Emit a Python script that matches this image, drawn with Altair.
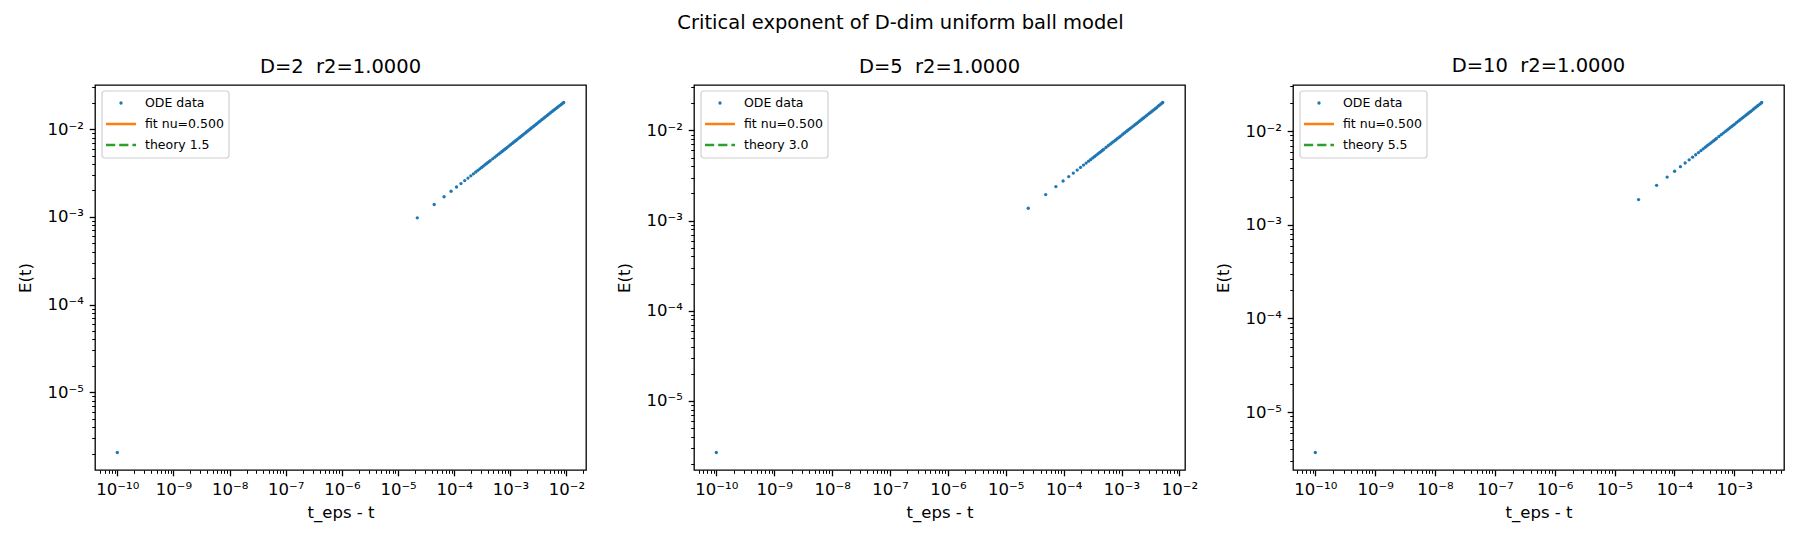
import math
import altair as alt
import pandas as pd

# ---------------- data ----------------
dims = [2, 5, 10]
r2_text = ["1.0000", "1.0000", "1.0000"]
fit_nu = ["0.500", "0.500", "0.500"]
theory = ["1.5", "3.0", "5.5"]
suptitle = "Critical exponent of D-dim uniform ball model"
x_label = "t_eps - t"
y_label = "E(t)"

x_d2 = [1e-10,
        2.2e-5, 4.4e-5, 6.6e-5, 8.8e-5, 1.1e-4, 1.32e-4, 1.54e-4, 1.76e-4, 1.98e-4, 2.2e-4,
        2.42e-4, 2.64e-4, 2.86e-4, 3.08e-4, 3.3e-4, 3.52e-4, 3.74e-4, 3.96e-4, 4.18e-4, 4.4e-4,
        4.84e-4, 5.28e-4, 5.72e-4, 6.16e-4, 6.6e-4, 7.04e-4, 7.48e-4, 7.92e-4, 8.36e-4, 8.8e-4,
        9.46e-4, 1.012e-3, 1.078e-3, 1.144e-3, 1.21e-3, 1.276e-3, 1.364e-3, 1.452e-3, 1.54e-3, 1.628e-3,
        1.716e-3, 1.826e-3, 1.936e-3, 2.046e-3, 2.156e-3, 2.288e-3, 2.42e-3, 2.574e-3, 2.728e-3, 2.882e-3,
        3.058e-3, 3.234e-3, 3.432e-3, 3.63e-3, 3.85e-3, 4.07e-3, 4.312e-3, 4.576e-3, 4.84e-3, 5.126e-3,
        5.434e-3, 5.764e-3, 6.094e-3, 6.468e-3, 6.842e-3, 7.26e-3, 7.678e-3, 8.14e-3, 8.624e-3, 8.91e-3]
y_d2 = [2.06e-6,
        9.75e-4, 1.383e-3, 1.694e-3, 1.956e-3, 2.187e-3, 2.396e-3, 2.588e-3, 2.766e-3, 2.934e-3, 3.093e-3,
        3.244e-3, 3.388e-3, 3.526e-3, 3.659e-3, 3.788e-3, 3.912e-3, 4.032e-3, 4.149e-3, 4.263e-3, 4.374e-3,
        4.587e-3, 4.791e-3, 4.987e-3, 5.175e-3, 5.357e-3, 5.532e-3, 5.703e-3, 5.868e-3, 6.029e-3, 6.198e-3,
        6.426e-3, 6.647e-3, 6.860e-3, 7.081e-3, 7.283e-3, 7.479e-3, 7.740e-3, 7.994e-3, 8.241e-3, 8.473e-3,
        8.708e-3, 8.992e-3, 9.268e-3, 9.528e-3, 9.791e-3, 1.0096e-2, 1.0383e-2, 1.0720e-2, 1.1047e-2, 1.1366e-2,
        1.1719e-2, 1.2063e-2, 1.2428e-2, 1.2794e-2, 1.3189e-2, 1.3560e-2, 1.3972e-2, 1.4393e-2, 1.4817e-2, 1.5249e-2,
        1.5716e-2, 1.6186e-2, 1.6643e-2, 1.7146e-2, 1.7635e-2, 1.8166e-2, 1.8682e-2, 1.9235e-2, 1.9799e-2, 2.01e-2]

x_d5 = [1e-10,
        2.45e-5, 4.9e-5, 7.35e-5, 9.8e-5, 1.225e-4, 1.47e-4, 1.715e-4, 1.96e-4, 2.205e-4, 2.45e-4,
        2.695e-4, 2.94e-4, 3.185e-4, 3.43e-4, 3.675e-4, 3.92e-4, 4.165e-4, 4.41e-4, 4.655e-4, 4.9e-4,
        5.39e-4, 5.88e-4, 6.37e-4, 6.86e-4, 7.35e-4, 7.84e-4, 8.33e-4, 8.82e-4, 9.31e-4, 9.8e-4,
        1.0535e-3, 1.127e-3, 1.2005e-3, 1.274e-3, 1.3475e-3, 1.421e-3, 1.519e-3, 1.617e-3, 1.715e-3, 1.813e-3,
        1.911e-3, 2.0335e-3, 2.156e-3, 2.2785e-3, 2.401e-3, 2.548e-3, 2.695e-3, 2.8665e-3, 3.038e-3, 3.2095e-3,
        3.4055e-3, 3.6015e-3, 3.822e-3, 4.0425e-3, 4.2875e-3, 4.5325e-3, 4.802e-3, 5.096e-3, 5.145e-3]
y_d5 = [2.67e-6,
        1.37e-3, 1.945e-3, 2.382e-3, 2.750e-3, 3.075e-3, 3.368e-3, 3.638e-3, 3.889e-3, 4.125e-3, 4.348e-3,
        4.560e-3, 4.763e-3, 4.958e-3, 5.145e-3, 5.325e-3, 5.500e-3, 5.669e-3, 5.834e-3, 5.994e-3, 6.149e-3,
        6.473e-3, 6.761e-3, 7.037e-3, 7.302e-3, 7.559e-3, 7.807e-3, 8.047e-3, 8.280e-3, 8.507e-3, 8.728e-3,
        9.082e-3, 9.394e-3, 9.695e-3, 9.987e-3, 1.0271e-2, 1.0548e-2, 1.0906e-2, 1.1252e-2, 1.1588e-2, 1.1914e-2,
        1.2232e-2, 1.2664e-2, 1.3039e-2, 1.3405e-2, 1.3760e-2, 1.4175e-2, 1.4578e-2, 1.5090e-2, 1.5535e-2, 1.5967e-2,
        1.6447e-2, 1.6913e-2, 1.7424e-2, 1.7919e-2, 1.8587e-2, 1.9109e-2, 1.9670e-2, 2.0263e-2, 2.043e-2]

x_d10 = [1e-10,
         2.52e-5, 5.04e-5, 7.56e-5, 1.008e-4, 1.26e-4, 1.512e-4, 1.764e-4, 2.016e-4, 2.268e-4, 2.52e-4,
         2.772e-4, 3.024e-4, 3.276e-4, 3.528e-4, 3.78e-4, 4.032e-4, 4.284e-4, 4.536e-4, 4.788e-4, 5.04e-4,
         5.544e-4, 6.048e-4, 6.552e-4, 7.056e-4, 7.56e-4, 8.064e-4, 8.568e-4, 9.072e-4, 9.576e-4, 1.008e-3,
         1.0836e-3, 1.1592e-3, 1.2348e-3, 1.3104e-3, 1.386e-3, 1.4616e-3, 1.5624e-3, 1.6632e-3, 1.764e-3, 1.8648e-3,
         1.9656e-3, 2.0916e-3, 2.2176e-3, 2.3436e-3, 2.4696e-3, 2.6208e-3, 2.772e-3, 2.8728e-3]
y_d10 = [3.7e-6,
         1.86e-3, 2.638e-3, 3.230e-3, 3.730e-3, 4.170e-3, 4.568e-3, 4.934e-3, 5.275e-3, 5.595e-3, 5.898e-3,
         6.186e-3, 6.461e-3, 6.724e-3, 6.978e-3, 7.223e-3, 7.460e-3, 7.690e-3, 7.912e-3, 8.129e-3, 8.340e-3,
         8.771e-3, 9.161e-3, 9.535e-3, 9.895e-3, 1.0242e-2, 1.0578e-2, 1.0904e-2, 1.1220e-2, 1.1527e-2, 1.1827e-2,
         1.2308e-2, 1.2730e-2, 1.3139e-2, 1.3535e-2, 1.3920e-2, 1.4295e-2, 1.4780e-2, 1.5249e-2, 1.5704e-2, 1.6147e-2,
         1.6577e-2, 1.7173e-2, 1.7683e-2, 1.8178e-2, 1.8661e-2, 1.9223e-2, 1.9770e-2, 2.022e-2]

xs = [x_d2, x_d5, x_d10]
ys = [y_d2, y_d5, y_d10]

# ---------------- styling ----------------
FONT = "DejaVu Sans"
BLUE, ORANGE, GREEN = "#1f77b4", "#ff7f0e", "#2ca02c"
W, H = 491, 385

MAJOR = "abs(log(datum.value)/LN10 - round(log(datum.value)/LN10)) < 0.001"
sup = {"-": "\u207b", "0": "\u2070", "1": "\u00b9", "2": "\u00b2", "3": "\u00b3",
       "4": "\u2074", "5": "\u2075", "6": "\u2076", "7": "\u2077", "8": "\u2078", "9": "\u2079"}
e = "toString(round(log(datum.value)/LN10))"
for k, v in sup.items():
    e = f"replace({e}, regexp('{k}', 'g'), '{v}')"
LABEL_EXPR = f"{MAJOR} ? '10' + {e} : ''"


def log_domain(vals):
    lo, hi = math.log10(min(vals)), math.log10(max(vals))
    pad = 0.05 * (hi - lo)
    return [10 ** (lo - pad), 10 ** (hi + pad)]


def tick_values(dom):
    lo, hi = dom
    out = []
    for n in range(math.floor(math.log10(lo)) - 1, math.ceil(math.log10(hi)) + 1):
        for m in range(1, 10):
            v = m * 10.0 ** n
            if lo <= v <= hi:
                out.append(v)
    return out


def make_axis(dom, title, pad):
    return alt.Axis(
        values=tick_values(dom), labelExpr=LABEL_EXPR, labelOverlap=False,
        grid=False, domain=False, ticks=True, tickColor="black",
        tickSize={"condition": {"test": MAJOR, "value": 5.8}, "value": 3.3},
        tickWidth={"condition": {"test": MAJOR, "value": 1.3}, "value": 1.0},
        labelFont=FONT, labelFontSize=16.5, labelColor="black", labelPadding=5.8,
        title=title, titleFont=FONT, titleFontSize=16.5, titleFontWeight="normal",
        titleColor="black", titlePadding=pad,
    )


one = pd.DataFrame({"k": [0]})


def legend(theory_txt, nu_txt):
    box = alt.Chart(one).mark_rect(fill="white", stroke="#cccccc", strokeWidth=1.2,
                                   cornerRadius=3, opacity=0.9).encode(
        x=alt.value(7), x2=alt.value(134), y=alt.value(6), y2=alt.value(73))
    dot = alt.Chart(one).mark_circle(size=11, color=BLUE, opacity=1).encode(
        x=alt.value(26), y=alt.value(18))
    fit = alt.Chart(one).mark_rule(color=ORANGE, strokeWidth=2.5).encode(
        x=alt.value(11), x2=alt.value(41), y=alt.value(39))
    th = alt.Chart(one).mark_rule(color=GREEN, strokeWidth=2.5, strokeDash=[9.2, 4]).encode(
        x=alt.value(11), x2=alt.value(41), y=alt.value(60))
    texts = []
    for yy, t in [(18, "ODE data"), (39, f"fit nu={nu_txt}"), (60, f"theory {theory_txt}")]:
        texts.append(alt.Chart(one).mark_text(align="left", baseline="middle", font=FONT,
                                              fontSize=12.5, color="black").encode(
            x=alt.value(50), y=alt.value(yy), text=alt.value(t)))
    return [box, dot, fit, th] + texts


panels = []
for i, d in enumerate(dims):
    df = pd.DataFrame({"x": xs[i], "y": ys[i]})
    xdom, ydom = log_domain(xs[i]), log_domain(ys[i])
    pts = alt.Chart(df).mark_circle(size=11, color=BLUE, opacity=1).encode(
        x=alt.X("x:Q", scale=alt.Scale(type="log", domain=xdom, nice=False),
                axis=make_axis(xdom, x_label, 6)),
        y=alt.Y("y:Q", scale=alt.Scale(type="log", domain=ydom, nice=False),
                axis=make_axis(ydom, y_label, 14)),
    )
    p = alt.layer(pts, *legend(theory[i], fit_nu[i])).properties(
        width=W, height=H,
        title=alt.TitleParams(f"D={d} \u00a0r2={r2_text[i]}", font=FONT, fontSize=19.5,
                              fontWeight="normal", color="black", anchor="middle", offset=2),
    )
    panels.append(p)

chart = alt.hconcat(*panels, spacing=108, bounds="flush").properties(
    title=alt.TitleParams(suptitle, font=FONT, fontSize=19.5, fontWeight="normal",
                          color="black", anchor="middle", offset=22),
    padding={"left": 8, "top": 4, "right": 5, "bottom": 5},
).configure(background="white").configure_view(stroke="black", strokeWidth=1.3)

chart.save("out.html", embed_options={"renderer": "svg", "actions": False})
